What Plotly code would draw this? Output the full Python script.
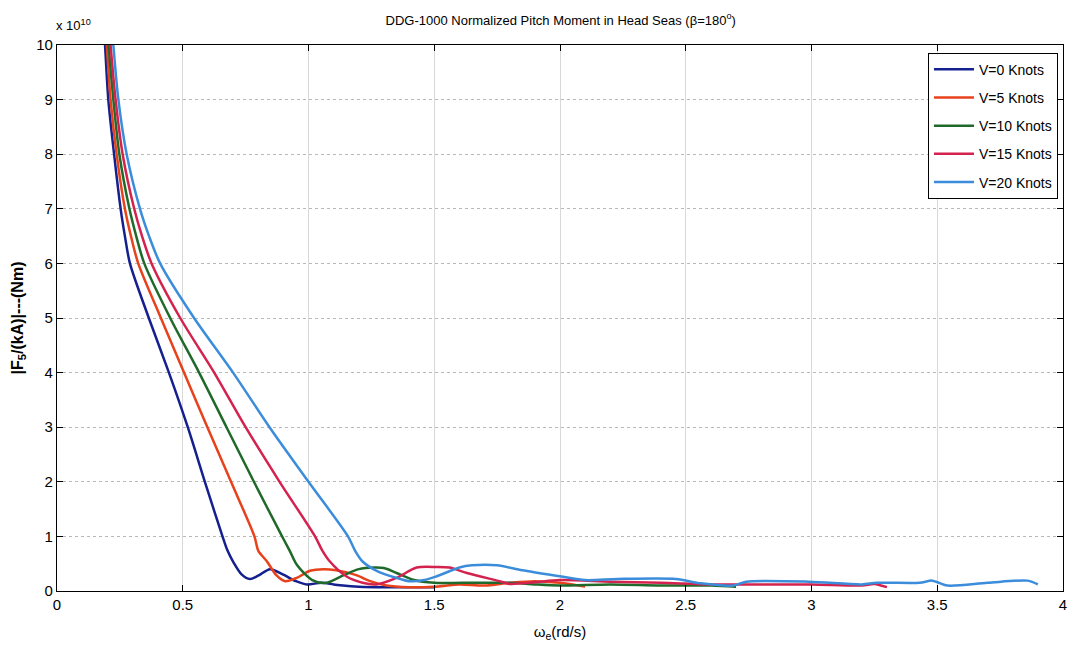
import plotly.graph_objects as go

# y values are in units of 1e10 Nm
v0_x = [0.172, 0.191, 0.204, 0.227, 0.253, 0.270, 0.290, 0.365, 0.445, 0.520, 0.588, 0.658, 0.678,
        0.700, 0.735, 0.767, 0.800, 0.847, 0.900, 0.950, 0.994, 1.050, 1.100, 1.137, 1.200, 1.300,
        1.400, 1.500]
v0_y = [11.5, 10.0, 9.0, 8.0, 7.0, 6.5, 6.0, 5.0, 4.0, 3.0, 2.0, 1.0, 0.74,
        0.54, 0.30, 0.22, 0.28, 0.40, 0.30, 0.18, 0.12, 0.15, 0.12, 0.10, 0.08, 0.07,
        0.07, 0.07]

v5_x = [0.178, 0.198, 0.213, 0.237, 0.270, 0.294, 0.323, 0.413, 0.505, 0.598, 0.692, 0.785, 0.800,
        0.835, 0.872, 0.907, 0.953, 1.006, 1.060, 1.110, 1.190, 1.245, 1.310, 1.400, 1.500, 1.600,
        1.700, 1.800, 1.900, 2.000, 2.100]
v5_y = [11.5, 10.0, 9.0, 8.0, 7.0, 6.5, 6.0, 5.0, 4.0, 3.0, 2.0, 1.0, 0.74,
        0.54, 0.29, 0.18, 0.24, 0.37, 0.40, 0.38, 0.29, 0.18, 0.10, 0.07, 0.08, 0.12,
        0.10, 0.15, 0.18, 0.15, 0.08]

v10_x = [0.183, 0.205, 0.224, 0.248, 0.288, 0.315, 0.347, 0.450, 0.565, 0.674, 0.783, 0.895, 0.925,
         0.955, 1.015, 1.070, 1.140, 1.200, 1.260, 1.300, 1.350, 1.420, 1.500, 1.610, 1.800, 1.900,
         2.000, 2.200, 2.400, 2.600, 2.700]
v10_y = [11.5, 10.0, 9.0, 8.0, 7.0, 6.5, 6.0, 5.0, 4.0, 3.0, 2.0, 1.0, 0.74,
         0.47, 0.20, 0.15, 0.29, 0.40, 0.43, 0.42, 0.33, 0.20, 0.15, 0.15, 0.15, 0.12,
         0.10, 0.12, 0.10, 0.10, 0.08]

v15_x = [0.190, 0.213, 0.233, 0.261, 0.307, 0.338, 0.376, 0.490, 0.625, 0.750, 0.885, 1.026, 1.055,
         1.085, 1.150, 1.215, 1.270, 1.350, 1.430, 1.510, 1.560, 1.630, 1.760, 1.800, 1.900, 2.000,
         2.200, 2.400, 2.600, 2.800, 3.000, 3.200, 3.250, 3.300]
v15_y = [11.5, 10.0, 9.0, 8.0, 7.0, 6.5, 6.0, 5.0, 4.0, 3.0, 2.0, 1.0, 0.74,
         0.54, 0.27, 0.15, 0.12, 0.24, 0.43, 0.44, 0.43, 0.33, 0.18, 0.13, 0.16, 0.20,
         0.17, 0.15, 0.12, 0.12, 0.12, 0.10, 0.13, 0.07]

v20_x = [0.200, 0.224, 0.244, 0.277, 0.330, 0.366, 0.410, 0.545, 0.700, 0.845, 1.000, 1.157, 1.185,
         1.215, 1.275, 1.350, 1.400, 1.460, 1.510, 1.600, 1.650, 1.750, 1.850, 2.000, 2.100, 2.230,
         2.460, 2.560, 2.690, 2.740, 2.990, 3.200, 3.260, 3.430, 3.480, 3.540, 3.700, 3.860, 3.900]
v20_y = [11.5, 10.0, 9.0, 8.0, 7.0, 6.5, 6.0, 5.0, 4.0, 3.0, 2.0, 1.0, 0.74,
         0.54, 0.36, 0.24, 0.18, 0.20, 0.27, 0.43, 0.47, 0.47, 0.38, 0.27, 0.20, 0.22,
         0.22, 0.14, 0.10, 0.17, 0.17, 0.12, 0.15, 0.15, 0.19, 0.10, 0.15, 0.19, 0.12]

names = ['V=0 Knots', 'V=5 Knots', 'V=10 Knots', 'V=15 Knots', 'V=20 Knots']
colors = ['#15208f', '#e8421c', '#1f6a2a', '#d4224f', '#3b8ddb']
series = [(v0_x, v0_y), (v5_x, v5_y), (v10_x, v10_y), (v15_x, v15_y), (v20_x, v20_y)]

fig = go.Figure()
for i, (name, color, (xs, ys)) in enumerate(zip(names, colors, series)):
    fig.add_trace(go.Scatter(
        x=xs, y=ys, name=name, mode='lines',
        line=dict(color=color, width=2.5, shape='spline', smoothing=0.8),
        legendgroup=str(i)
    ))

fig.update_layout(
    width=1068, height=656,
    paper_bgcolor='white', plot_bgcolor='white',
    margin=dict(l=57, r=5, t=45, b=65),
    font=dict(family='Liberation Sans', size=13, color='black'),
    title=dict(text='DDG-1000 Normalized Pitch Moment in Head Seas (β=180<sup>o</sup>)',
               x=0.525, xanchor='center', y=0.969, yanchor='middle', font=dict(size=13)),
    legend=dict(x=0.995, xanchor='right', y=0.986, yanchor='top',
                bgcolor='white', bordercolor='black', borderwidth=1,
                font=dict(size=14), tracegroupgap=7,
                itemwidth=40),
    showlegend=True,
)

fig.update_xaxes(
    range=[0, 4], tickvals=[0, 0.5, 1, 1.5, 2, 2.5, 3, 3.5, 4],
    ticktext=['0', '0.5', '1', '1.5', '2', '2.5', '3', '3.5', '4'],
    showline=True, linecolor='black', linewidth=1.2, mirror='allticks',
    ticks='inside', ticklen=6, tickcolor='black', automargin=False,
    ticklabeloverflow='allow',
    showgrid=True, gridcolor='#d8d8d8', gridwidth=1, zeroline=False,
    tickfont=dict(size=15),
    title=dict(text='ω<sub>e</sub>(rd/s)', font=dict(size=15), standoff=14),
)
fig.update_yaxes(
    range=[0, 10], tickvals=list(range(11)),
    showline=True, linecolor='black', linewidth=1.2, mirror='allticks',
    ticks='inside', ticklen=6, tickcolor='black', automargin=False,
    showgrid=True, gridcolor='#b8b8b8', gridwidth=1, griddash='dot', zeroline=False,
    tickfont=dict(size=15),
    title=dict(text='<b>|F<sub>5</sub>/(kA)|---(Nm)</b>', font=dict(size=16), standoff=8),
)

fig.add_annotation(text='x 10<sup>10</sup>', xref='paper', yref='paper',
                   x=0.0, y=1.0, xanchor='left', yanchor='bottom', yshift=10, xshift=-3,
                   showarrow=False, font=dict(size=13))

# drop the default page margin so the figure fills the window exactly
fig.write_html('out.html', config={'displayModeBar': False},
               post_script="document.body.style.margin='0';document.body.style.overflow='hidden';")
